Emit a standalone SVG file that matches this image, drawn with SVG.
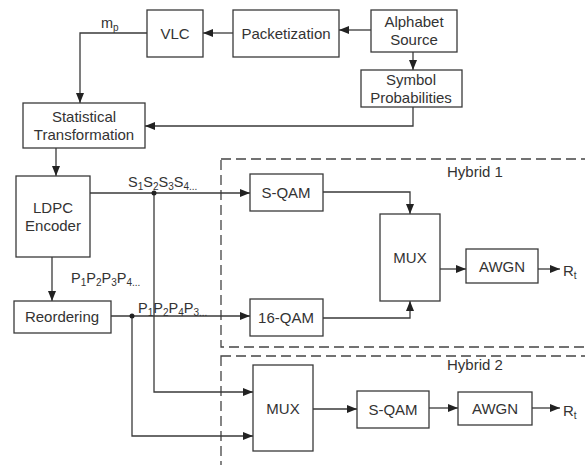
<svg xmlns="http://www.w3.org/2000/svg" width="585" height="465" viewBox="0 0 585 465">
<style>
.box{fill:#fff;stroke:#3a3a3a;stroke-width:1.3}
.t{font-family:"Liberation Sans",Arial,sans-serif;font-size:15px;fill:#333;text-anchor:middle}
.l{font-family:"Liberation Sans",Arial,sans-serif;font-size:14.5px;fill:#333}
.h{font-family:"Liberation Sans",Arial,sans-serif;font-size:15px;fill:#333}
.sub{font-size:10px}
.c{fill:none;stroke:#3a3a3a;stroke-width:1.3}
.d{fill:none;stroke:#444;stroke-width:1.3;stroke-dasharray:10,5}
</style>
<defs>
<marker id="a" viewBox="0 0 10 8" refX="10" refY="4" markerWidth="10" markerHeight="8" markerUnits="userSpaceOnUse" orient="auto">
<path d="M0,0L10,4L0,8z" fill="#222"/>
</marker>
</defs>
<g id="hybrid1"><rect class="d" x="221" y="159" width="380" height="188"/><text class="h" x="447" y="177">Hybrid 1</text></g>
<g id="hybrid2"><rect class="d" x="221" y="356" width="380" height="120"/><text class="h" x="447" y="370">Hybrid 2</text></g>
<g id="connectors">
<path class="c" marker-end="url(#a)" d="M371,30H339"/>
<path class="c" marker-end="url(#a)" d="M233,33H203"/>
<path class="c" marker-end="url(#a)" d="M147,33H80V103"/>
<path class="c" marker-end="url(#a)" d="M413,52V70"/>
<path class="c" marker-end="url(#a)" d="M413,107V126H145"/>
<path class="c" marker-end="url(#a)" d="M56,148V176"/>
<path class="c" marker-end="url(#a)" d="M52,257V301"/>
<path class="c" marker-end="url(#a)" d="M90,193H250"/>
<path class="c" marker-end="url(#a)" d="M111,316H250"/>
<path class="c" marker-end="url(#a)" d="M323,192H410V214"/>
<path class="c" marker-end="url(#a)" d="M323,318H410V301"/>
<path class="c" marker-end="url(#a)" d="M440,269H466"/>
<path class="c" marker-end="url(#a)" d="M538,269H560"/>
<path class="c" marker-end="url(#a)" d="M154,193V392H253"/>
<path class="c" marker-end="url(#a)" d="M132,316V436H253"/>
<path class="c" marker-end="url(#a)" d="M313,409H357"/>
<path class="c" marker-end="url(#a)" d="M429,408H458"/>
<path class="c" marker-end="url(#a)" d="M532,408H560"/>
<circle cx="154" cy="193" r="2.5" fill="#222"/>
<circle cx="132" cy="316" r="2.5" fill="#222"/>
<text class="l" x="101" y="28">m<tspan class="sub" dy="3">p</tspan></text>
<text class="l" x="128" y="187">S<tspan class="sub" dy="3">1</tspan><tspan dy="-3">S</tspan><tspan class="sub" dy="3">2</tspan><tspan dy="-3">S</tspan><tspan class="sub" dy="3">3</tspan><tspan dy="-3">S</tspan><tspan class="sub" dy="3">4...</tspan></text>
<text class="l" x="71" y="283">P<tspan class="sub" dy="3">1</tspan><tspan dy="-3">P</tspan><tspan class="sub" dy="3">2</tspan><tspan dy="-3">P</tspan><tspan class="sub" dy="3">3</tspan><tspan dy="-3">P</tspan><tspan class="sub" dy="3">4...</tspan></text>
<text class="l" x="138" y="313">P<tspan class="sub" dy="3">1</tspan><tspan dy="-3">P</tspan><tspan class="sub" dy="3">2</tspan><tspan dy="-3">P</tspan><tspan class="sub" dy="3">4</tspan><tspan dy="-3">P</tspan><tspan class="sub" dy="3">3...</tspan></text>
<text class="h" x="563" y="276">R<tspan class="sub" dy="3">t</tspan></text>
<text class="h" x="563" y="416">R<tspan class="sub" dy="3">t</tspan></text>
</g>
<g id="vlc"><rect class="box" x="147" y="10" width="56" height="47"/><text class="t" x="175" y="39">VLC</text></g>
<g id="packetization"><rect class="box" x="233" y="10" width="106" height="47"/><text class="t" x="286" y="39">Packetization</text></g>
<g id="alphabet"><rect class="box" x="371" y="10" width="86" height="42"/><text class="t" x="414" y="27">Alphabet</text><text class="t" x="414" y="45">Source</text></g>
<g id="symprob"><rect class="box" x="361" y="70" width="101" height="37"/><text class="t" x="411" y="85">Symbol</text><text class="t" x="411" y="103">Probabilities</text></g>
<g id="stat"><rect class="box" x="23" y="103" width="122" height="45"/><text class="t" x="84" y="122">Statistical</text><text class="t" x="84" y="140">Transformation</text></g>
<g id="ldpc"><rect class="box" x="16" y="176" width="74" height="81"/><text class="t" x="53" y="213">LDPC</text><text class="t" x="53" y="231">Encoder</text></g>
<g id="reorder"><rect class="box" x="14" y="301" width="97" height="32"/><text class="t" x="62" y="322">Reordering</text></g>
<g id="sqam1"><rect class="box" x="250" y="174" width="73" height="37"/><text class="t" x="286" y="198">S-QAM</text></g>
<g id="qam16"><rect class="box" x="250" y="299" width="73" height="37"/><text class="t" x="286" y="323">16-QAM</text></g>
<g id="mux1"><rect class="box" x="380" y="214" width="60" height="87"/><text class="t" x="410" y="263">MUX</text></g>
<g id="awgn1"><rect class="box" x="466" y="249" width="72" height="34"/><text class="t" x="502" y="272">AWGN</text></g>
<g id="mux2"><rect class="box" x="253" y="365" width="60" height="86"/><text class="t" x="283" y="414">MUX</text></g>
<g id="sqam2"><rect class="box" x="357" y="391" width="72" height="37"/><text class="t" x="393" y="415">S-QAM</text></g>
<g id="awgn2"><rect class="box" x="458" y="392" width="74" height="33"/><text class="t" x="495" y="414">AWGN</text></g>
</svg>
